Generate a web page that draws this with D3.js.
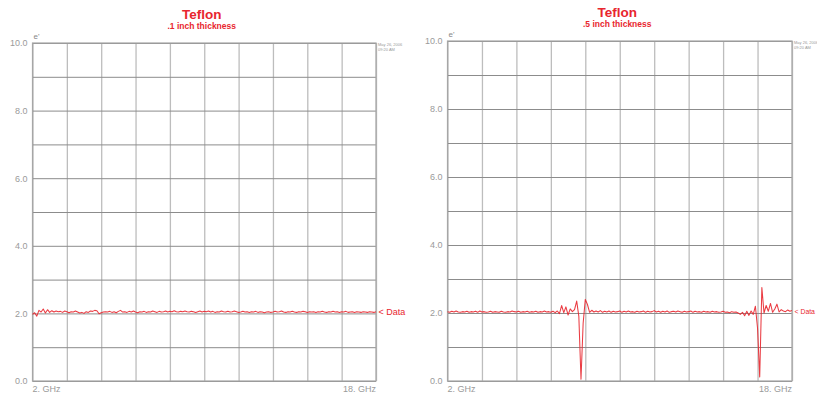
<!DOCTYPE html>
<html>
<head>
<meta charset="utf-8">
<script src="https://cdn.jsdelivr.net/npm/d3@7"></script>
<style>
  html, body { margin: 0; padding: 0; background: #fff; }
  svg { display: block; font-family: Arial, "Liberation Sans", sans-serif; }
</style>
</head>
<body>
<svg id="chart" width="817" height="398"></svg>
<script>
// Sweep: 2 to 18 GHz, 0.1 GHz per point (161 points)
const sweepStart = 2;
const sweepStop = 18;
const sweepStep = 0.1;

// Permittivity e' readings, .1 inch Teflon sample
const thinSample = [
  1.97, 2.02, 1.92, 2.09, 2.04, 2.13, 2.01, 2.11, 2.03, 2.08,
  2.04, 2.07, 2.05, 2.06, 2.03, 2.07, 2.05, 2.02, 2.05, 2.04,
  2.07, 2.04, 2.01, 2.03, 2.00, 2.05, 2.03, 2.07, 2.06, 2.09,
  2.08, 1.99, 2.02, 2.04, 2.05, 2.04, 2.06, 2.03, 2.05, 2.02,
  2.06, 2.09, 2.04, 2.05, 2.03, 2.06, 2.04, 2.07, 2.04, 2.02,
  2.05, 2.04, 2.06, 2.03, 2.05, 2.04, 2.07, 2.05, 2.03, 2.06,
  2.04, 2.05, 2.07, 2.04, 2.06, 2.05, 2.08, 2.05, 2.04, 2.06,
  2.05, 2.07, 2.05, 2.04, 2.06, 2.05, 2.03, 2.05, 2.07, 2.04,
  2.06, 2.05, 2.07, 2.04, 2.06, 2.03, 2.05, 2.04, 2.07, 2.05,
  2.04, 2.06, 2.04, 2.05, 2.07, 2.05, 2.03, 2.04, 2.06, 2.04,
  2.05, 2.03, 2.05, 2.04, 2.06, 2.03, 2.05, 2.04, 2.02, 2.04,
  2.05, 2.03, 2.04, 2.06, 2.04, 2.05, 2.07, 2.04, 2.03, 2.05,
  2.04, 2.06, 2.04, 2.03, 2.05, 2.04, 2.06, 2.05, 2.03, 2.05,
  2.04, 2.05, 2.03, 2.05, 2.04, 2.06, 2.04, 2.03, 2.05, 2.04,
  2.06, 2.04, 2.05, 2.03, 2.05, 2.04, 2.06, 2.03, 2.04, 2.05,
  2.03, 2.05, 2.04, 2.03, 2.05, 2.04, 2.03, 2.05, 2.04, 2.03,
  2.05
];

// Permittivity e' readings, .5 inch Teflon sample
const thickSample = [
  2.04, 2.02, 2.05, 2.03, 2.06, 2.03, 2.02, 2.04, 2.03, 2.05,
  2.02, 2.04, 2.03, 2.05, 2.02, 2.06, 2.03, 2.04, 2.02, 2.03,
  2.05, 2.02, 2.04, 2.03, 2.02, 2.05, 2.03, 2.02, 2.04, 2.03,
  2.06, 2.04, 2.03, 2.05, 2.02, 2.04, 2.03, 2.05, 2.02, 2.04,
  2.03, 2.05, 2.02, 2.04, 2.03, 2.06, 2.03, 2.04, 2.02, 2.05,
  2.01, 2.06, 1.98, 2.22, 2.01, 2.18, 1.94, 2.12, 2.04, 2.10,
  2.35, 1.90, 0.05, 1.70, 2.40, 2.25, 2.02, 2.08, 2.03, 2.06,
  2.03, 2.07, 2.02, 2.05, 2.03, 2.06, 2.02, 2.05, 2.03, 2.04,
  2.06, 2.02, 2.05, 2.03, 2.06, 2.03, 2.04, 2.02, 2.05, 2.03,
  2.04, 2.06, 2.02, 2.05, 2.03, 2.04, 2.07, 2.03, 2.05, 2.02,
  2.05, 2.03, 2.06, 2.02, 2.04, 2.05, 2.03, 2.06, 2.04, 2.02,
  2.05, 2.03, 2.04, 2.06, 2.02, 2.05, 2.03, 2.04, 2.02, 2.05,
  2.03, 2.04, 2.02, 2.05, 2.03, 2.04, 2.02, 2.03, 2.05, 2.02,
  2.03, 2.01, 2.04, 2.02, 2.03, 2.00, 1.96, 2.02, 1.92, 2.05,
  1.93, 2.06, 1.96, 2.20, 1.55, 0.12, 2.75, 2.00, 2.22, 2.05,
  2.28, 2.02, 2.12, 2.26, 2.03, 2.10, 2.06, 2.04, 2.09, 2.05,
  2.07
];

const yTicks = [0, 2, 4, 6, 8, 10];
const xEndLabels = ["2. GHz", "18. GHz"];
const panelTitles = ["Teflon", "Teflon"];
const panelSubtitles = [".1 inch thickness", ".5 inch thickness"];
const stampLines = ["May 26, 2006", "09:20 AM"];
const traceLabel = "< Data";

const red = "#e8262e";
const labelGrey = "#9a9a9a";
const pageWidth = 817;

const svg = d3.select("#chart");

function drawPanel(values, title, subtitle, box) {
  const g = svg.append("g");
  const x = d3.scaleLinear().domain([sweepStart, sweepStop]).range([box.left, box.right]);
  const y = d3.scaleLinear().domain([0, 10]).range([box.bottom, box.top]);
  const w = box.right - box.left;
  const h = box.bottom - box.top;

  // vertical grid (10 divisions)
  const xGrid = d3.axisBottom(x)
    .tickValues(d3.range(11).map(i => sweepStart + i * (sweepStop - sweepStart) / 10))
    .tickSize(-h).tickFormat("");
  g.append("g").attr("transform", `translate(0,${box.bottom})`).call(xGrid)
    .call(a => a.select(".domain").remove())
    .call(a => a.selectAll("line").attr("stroke", "#bdbdbd").attr("stroke-width", 1.3));

  // horizontal grid (1 unit per division)
  const yGrid = d3.axisLeft(y).tickValues(d3.range(0, 11)).tickSize(-w).tickFormat("");
  g.append("g").attr("transform", `translate(${box.left},0)`).call(yGrid)
    .call(a => a.select(".domain").remove())
    .call(a => a.selectAll("line").attr("stroke", "#8c8c8c").attr("stroke-width", 1));

  // frame
  g.append("rect").attr("x", box.left).attr("y", box.top).attr("width", w).attr("height", h)
    .attr("fill", "none").attr("stroke", "#a6a6a6").attr("stroke-width", 1.2);

  // y tick labels
  const yAxis = d3.axisLeft(y).tickValues(yTicks).tickSize(0).tickPadding(5)
    .tickFormat(d3.format(".1f"));
  g.append("g").attr("transform", `translate(${box.left},0)`).call(yAxis)
    .call(a => a.select(".domain").remove())
    .call(a => a.selectAll("text").attr("fill", labelGrey).attr("font-size", 9)
      .attr("font-family", "Arial, 'Liberation Sans', sans-serif"));

  // e' axis name
  g.append("text").attr("x", box.left + 1).attr("y", box.top - 4)
    .attr("fill", "#888").attr("font-size", 8).text("e'");

  // x end labels
  g.append("text").attr("x", x(sweepStart)).attr("y", box.bottom + 11)
    .attr("fill", labelGrey).attr("font-size", 9).text(xEndLabels[0]);
  g.append("text").attr("x", x(sweepStop)).attr("y", box.bottom + 11)
    .attr("text-anchor", "end").attr("fill", labelGrey).attr("font-size", 9).text(xEndLabels[1]);

  // titles
  const cx = (box.left + box.right) / 2 - 2.5;
  g.append("text").attr("x", cx).attr("y", box.top - 24.5).attr("text-anchor", "middle")
    .attr("fill", red).attr("font-size", 13.5).attr("font-weight", "bold").text(title);
  g.append("text").attr("x", cx).attr("y", box.top - 14).attr("text-anchor", "middle")
    .attr("fill", red).attr("font-size", 8.5).attr("font-weight", "bold").text(subtitle);

  // time stamp
  stampLines.forEach((s, i) => {
    g.append("text").attr("x", box.right + 2).attr("y", box.top + 3 + i * 4.5)
      .attr("fill", "#999").attr("font-size", 4).text(s);
  });

  // trace
  const pts = values.map((v, i) => [sweepStart + i * sweepStep, v]);
  const line = d3.line().x(d => x(d[0])).y(d => y(d[1]));
  g.append("path").datum(pts).attr("d", line)
    .attr("fill", "none").attr("stroke", red).attr("stroke-width", 1.05)
    .attr("stroke-opacity", 0.9).attr("stroke-linejoin", "round");

  // trace marker label, shrunk if it would run past the page edge
  const lx = box.right + 2.5;
  const lbl = g.append("text").attr("x", lx).attr("y", y(values[values.length - 1]) + 3)
    .attr("fill", red).attr("font-size", 9).text(traceLabel);
  const natural = lbl.node().getComputedTextLength();
  const room = pageWidth - lx - 2;
  if (natural > room) {
    lbl.attr("font-size", 9 * room / natural);
  }
}

drawPanel(thinSample, panelTitles[0], panelSubtitles[0],
  { left: 32.5, right: 376, top: 43, bottom: 381 });
drawPanel(thickSample, panelTitles[1], panelSubtitles[1],
  { left: 447.5, right: 792, top: 41, bottom: 381 });
</script>
</body>
</html>
